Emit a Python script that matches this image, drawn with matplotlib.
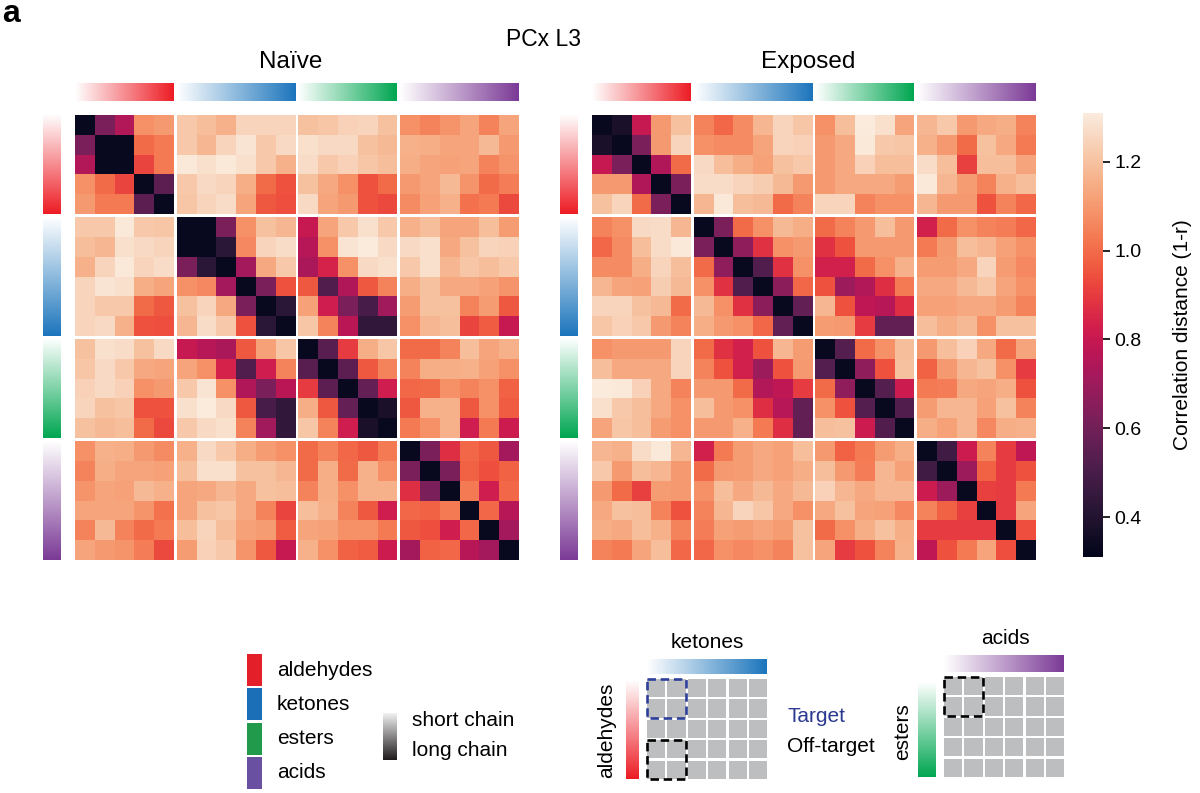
"""
Matrices de distancia de correlacion (1-r) en PCx L3, naive vs expuesto,
agrupadas por clase de odorante.
"""
import numpy as np
import matplotlib

matplotlib.use("Agg")
import matplotlib.pyplot as plt
from matplotlib.colors import LinearSegmentedColormap
from matplotlib.patches import Rectangle
import seaborn as sns

plt.rcParams["font.family"] = ["Liberation Sans", "DejaVu Sans"]

W, H = 1200, 793

groups = ["aldehydes", "ketones", "esters", "acids"]
group_sizes = [5, 6, 5, 6]
group_colors = ["#ED1C24", "#1C75BC", "#00A651", "#7B3A96"]
legend_colors = ["#E3202A", "#1B6FB6", "#219A4B", "#6A50A0"]
panel_titles = ["Naïve", "Exposed"]
cbar_ticks = [0.4, 0.6, 0.8, 1.0, 1.2]
vmin, vmax = 0.31, 1.31

# triangulo superior (fila i, columnas i..21)
naive_upper = [
    [0.33, 0.62, 0.75, 1.08, 1.10, 1.22, 1.19, 1.16, 1.25, 1.25, 1.25, 1.20, 1.21, 1.24, 1.25, 1.20, 1.08, 1.05, 1.09, 1.13, 1.05, 1.13],
    [0.33, 0.33, 1.00, 1.03, 1.22, 1.17, 1.25, 1.29, 1.22, 1.26, 1.28, 1.26, 1.26, 1.20, 1.18, 1.16, 1.15, 1.13, 1.13, 1.18, 1.10],
    [0.33, 0.92, 1.03, 1.30, 1.28, 1.30, 1.28, 1.22, 1.16, 1.27, 1.22, 1.24, 1.21, 1.19, 1.15, 1.13, 1.12, 1.13, 1.05, 1.09],
    [0.33, 0.55, 1.22, 1.26, 1.25, 1.15, 1.00, 0.95, 1.20, 1.14, 1.08, 0.95, 1.00, 1.10, 1.13, 1.18, 1.09, 1.00, 1.04],
    [0.33, 1.21, 1.25, 1.27, 1.13, 0.96, 0.94, 1.26, 1.13, 1.10, 0.95, 0.93, 1.07, 1.12, 1.16, 1.01, 1.03, 0.93],
    [0.33, 0.33, 0.62, 1.08, 1.20, 1.17, 0.80, 1.13, 1.22, 1.28, 1.22, 1.16, 1.19, 1.13, 1.13, 1.19, 1.11],
    [0.33, 0.42, 1.06, 1.25, 1.27, 0.76, 1.08, 1.29, 1.31, 1.26, 1.26, 1.28, 1.14, 1.20, 1.25, 1.24],
    [0.33, 0.72, 1.14, 1.22, 0.73, 0.84, 1.08, 1.26, 1.28, 1.22, 1.28, 1.17, 1.21, 1.19, 1.22],
    [0.33, 0.62, 0.95, 0.96, 0.52, 0.74, 0.96, 1.05, 1.15, 1.20, 1.14, 1.14, 1.12, 1.09],
    [0.33, 0.42, 1.12, 0.82, 0.62, 0.50, 0.71, 1.11, 1.20, 1.20, 1.05, 1.11, 0.96],
    [0.33, 1.21, 1.05, 0.77, 0.44, 0.44, 1.08, 1.17, 1.19, 0.92, 0.97, 0.80],
    [0.33, 0.54, 0.90, 1.15, 1.21, 1.00, 1.00, 1.05, 1.19, 1.13, 1.16],
    [0.33, 0.55, 0.96, 1.05, 1.05, 1.15, 1.15, 1.16, 1.12, 1.08],
    [0.33, 0.57, 0.82, 0.99, 1.00, 1.08, 1.05, 1.08, 0.98],
    [0.33, 0.38, 0.96, 1.16, 1.16, 0.96, 1.08, 0.97],
    [0.33, 1.03, 1.08, 1.16, 0.82, 1.03, 0.81],
    [0.33, 0.62, 0.87, 0.99, 0.96, 0.72],
    [0.33, 0.62, 0.98, 0.94, 0.98],
    [0.33, 1.03, 0.82, 0.99],
    [0.33, 0.99, 0.76],
    [0.33, 0.72],
    [0.33],
]

exposed_upper = [
    [0.33, 0.38, 0.80, 1.10, 1.20, 1.05, 0.99, 1.07, 1.17, 1.25, 1.21, 1.08, 1.19, 1.31, 1.28, 1.13, 1.17, 1.22, 1.10, 1.14, 1.15, 1.05],
    [0.33, 0.62, 1.10, 1.25, 1.08, 1.07, 1.07, 1.13, 1.25, 1.24, 1.10, 1.14, 1.30, 1.22, 1.21, 1.16, 1.10, 1.00, 1.20, 1.14, 1.03],
    [0.33, 0.74, 1.00, 1.26, 1.19, 1.15, 1.12, 1.20, 1.22, 1.10, 1.14, 1.24, 1.19, 1.19, 1.27, 1.19, 0.91, 1.19, 1.19, 1.13],
    [0.33, 0.62, 1.27, 1.27, 1.25, 1.23, 1.18, 1.10, 1.10, 1.14, 1.14, 1.14, 1.11, 1.30, 1.17, 1.11, 1.05, 1.16, 1.19],
    [0.33, 1.17, 1.30, 1.19, 1.18, 1.00, 1.05, 1.25, 1.25, 1.05, 1.08, 1.08, 1.17, 1.10, 1.10, 0.95, 1.05, 0.99],
    [0.33, 0.62, 1.00, 1.08, 1.18, 1.15, 1.00, 1.05, 1.10, 1.19, 1.10, 0.83, 1.00, 1.08, 1.05, 1.04, 0.99],
    [0.33, 0.67, 0.88, 1.08, 1.10, 0.88, 0.95, 1.10, 1.10, 1.10, 1.03, 1.10, 1.19, 1.17, 1.12, 1.08],
    [0.33, 0.52, 0.88, 1.08, 0.83, 0.83, 1.00, 1.08, 1.16, 1.11, 1.11, 1.14, 1.25, 1.11, 1.06],
    [0.33, 0.66, 0.99, 0.95, 0.70, 0.75, 0.87, 1.03, 1.14, 1.14, 1.18, 1.21, 1.13, 1.08],
    [0.33, 0.56, 1.17, 0.95, 0.78, 0.76, 0.87, 1.12, 1.12, 1.14, 1.14, 1.11, 1.05],
    [0.33, 1.11, 1.10, 0.90, 0.56, 0.56, 1.19, 1.15, 1.18, 1.08, 1.20, 1.20],
    [0.33, 0.53, 1.00, 1.08, 1.19, 1.10, 1.19, 1.24, 1.14, 1.00, 1.13],
    [0.33, 0.67, 0.95, 1.20, 0.98, 1.10, 1.17, 1.20, 1.08, 0.90],
    [0.33, 0.53, 0.81, 1.03, 1.04, 1.14, 1.13, 1.15, 0.95],
    [0.33, 0.52, 1.11, 1.17, 1.17, 1.12, 1.20, 1.05],
    [0.33, 1.15, 1.12, 1.17, 1.06, 1.15, 1.16],
    [0.33, 0.48, 0.81, 1.05, 0.90, 0.78],
    [0.33, 0.70, 0.98, 0.90, 0.95],
    [0.33, 0.91, 0.90, 1.03],
    [0.33, 0.90, 1.13],
    [0.33, 0.94],
    [0.33],
]


def matriz_simetrica(upper):
    """Arma la matriz completa a partir del triangulo superior."""
    n = len(upper)
    mat = np.zeros((n, n))
    for i, fila in enumerate(upper):
        assert len(fila) == n - i
        mat[i, i:] = fila
        mat[i:, i] = fila
    return mat


def px_axes(fig, x0, y0, x1, y1):
    """Ejes en coordenadas de pixel (origen arriba a la izquierda)."""
    return fig.add_axes([x0 / W, 1 - y1 / H, (x1 - x0) / W, (y1 - y0) / H])


def bordes_con_huecos(sizes, gap):
    edges = [0.0]
    pos = 0.0
    for k, n in enumerate(sizes):
        for _ in range(n):
            pos += 1
            edges.append(pos)
        if k < len(sizes) - 1:
            pos += gap
            edges.append(pos)
    return np.array(edges)


def gradiente(ov, x0, y0, x1, y1, color, vertical=False, start="white"):
    cmap = LinearSegmentedColormap.from_list("g", [start, color])
    grad = np.linspace(0, 1, 256)
    img = grad[:, None] if vertical else grad[None, :]
    ov.imshow(img, cmap=cmap, origin="upper", extent=[x0, x1, y1, y0],
              aspect="auto", interpolation="bilinear")


GAP = 0.15
edges = bordes_con_huecos(group_sizes, GAP)
total = edges[-1]
split_at = np.cumsum(group_sizes)[:-1]
starts = [sum(group_sizes[:k]) + k * GAP for k in range(len(group_sizes))]

rocket = sns.color_palette("rocket", as_cmap=True)

fig = plt.figure(figsize=(W / 100, H / 100), dpi=100)
ov = fig.add_axes([0, 0, 1, 1])

panel_boxes = [(75, 115, 519, 560), (592, 115, 1036, 560)]
mesh = None
for upper, box, titulo in zip([naive_upper, exposed_upper], panel_boxes, panel_titles):
    mat = matriz_simetrica(upper)
    padded = np.insert(np.insert(mat, split_at, np.nan, axis=0), split_at, np.nan, axis=1)
    ax = px_axes(fig, *box)
    mesh = ax.pcolormesh(edges, edges, np.ma.masked_invalid(padded), cmap=rocket,
                         vmin=vmin, vmax=vmax)
    ax.set_xlim(0, total)
    ax.set_ylim(total, 0)
    ax.axis("off")

    bx0, by0, bx1, by1 = box
    sx = (bx1 - bx0) / total
    sy = (by1 - by0) / total
    for k, n in enumerate(group_sizes):
        a, b = starts[k], starts[k] + n
        gradiente(ov, bx0 + a * sx, 83, bx0 + b * sx, 101, group_colors[k])
        gradiente(ov, bx0 - 32, by0 + a * sy, bx0 - 14, by0 + b * sy,
                  group_colors[k], vertical=True)
    ov.text((bx0 + bx1) / 2 - 6, 62, titulo, ha="center", va="center", fontsize=17.5)

ov.text(543, 40, "PCx L3", ha="center", va="center", fontsize=16.5)
ov.text(2, 14, "a", ha="left", va="center", fontsize=23, fontweight="bold")

# barra de color
cax = px_axes(fig, 1083, 113, 1103, 557)
cb = fig.colorbar(mesh, cax=cax, ticks=cbar_ticks)
cb.outline.set_visible(False)
cb.ax.tick_params(labelsize=14, length=5, width=1.2, pad=3)
cb.ax.set_yticklabels([f"{t:.1f}" for t in cbar_ticks])
ov.text(1182, 335, "Correlation distance (1-r)", rotation=90, ha="center",
        va="center", fontsize=15)

# leyenda de clases
for k, nombre in enumerate(groups):
    y0 = 654 + k * 34.3
    ov.add_patch(Rectangle((247, y0), 15, 32, fc=legend_colors[k], ec="none"))
    ov.text(277, y0 + 16, nombre, ha="left", va="center", fontsize=15)

gradiente(ov, 383, 713, 397, 760, "#1E1A1B", vertical=True, start="#F2F2F2")
ov.text(412, 720, "short chain", ha="left", va="center", fontsize=15)
ov.text(412, 750, "long chain", ha="left", va="center", fontsize=15)


def esquema(ov, x0, y0, pitch, gap, ncols, nrows):
    for r in range(nrows):
        for c in range(ncols):
            ov.add_patch(Rectangle((x0 + c * pitch, y0 + r * pitch), pitch - gap,
                                   pitch - gap, fc="#BCBEC0", ec="none"))


def caja(ov, x0, y0, pitch, gap, fila, color):
    ov.add_patch(Rectangle((x0 - 0.5, y0 + fila * pitch - 0.5), 2 * pitch - gap + 1,
                           2 * pitch - gap + 1, fill=False, ec=color, lw=1.9,
                           ls=(0, (3.2, 1.8)), zorder=5))


PITCH, CGAP = 20.4, 2.2
# esquema izquierdo: aldehidos vs cetonas
esquema(ov, 647, 679, PITCH, CGAP, 6, 5)
gradiente(ov, 647, 659, 767, 674, group_colors[1])
gradiente(ov, 626, 680, 639, 779, group_colors[0], vertical=True)
caja(ov, 647, 679, PITCH, CGAP, 0, "#2E3F9A")
caja(ov, 647, 679, PITCH, CGAP, 3, "black")
ov.text(707, 643, "ketones", ha="center", va="center", fontsize=15)
ov.text(607, 730, "aldehydes", ha="center", va="center", rotation=90, fontsize=15)
ov.text(788, 717, "Target", ha="left", va="center", fontsize=15, color="#2B3990")
ov.text(787, 747, "Off-target", ha="left", va="center", fontsize=15)

# esquema derecho: esteres vs acidos
esquema(ov, 944, 677, PITCH, CGAP, 6, 5)
gradiente(ov, 944, 655, 1064, 672, group_colors[3])
gradiente(ov, 918, 682, 936, 777, group_colors[2], vertical=True)
caja(ov, 944, 677, PITCH, CGAP, 0, "black")
ov.text(1005, 638, "acids", ha="center", va="center", fontsize=15)
ov.text(903, 732, "esters", ha="center", va="center", rotation=90, fontsize=15)

ov.set_xlim(0, W)
ov.set_ylim(H, 0)
ov.axis("off")

fig.savefig("out.png", dpi=100)
